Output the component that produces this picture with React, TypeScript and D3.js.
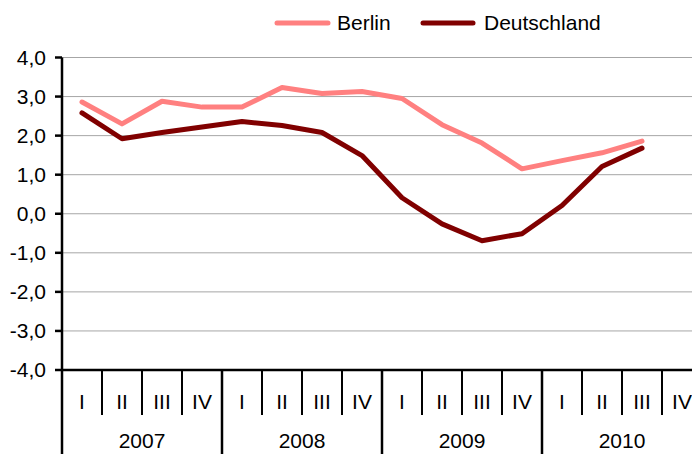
import React from 'react';
import * as d3 from 'd3';

const years = ['2007', '2008', '2009', '2010'];
const quarters = ['I', 'II', 'III', 'IV'];
const yTicks = [-4, -3, -2, -1, 0, 1, 2, 3, 4];

const berlin = [2.86, 2.3, 2.88, 2.73, 2.73, 3.23, 3.08, 3.13, 2.95, 2.28, 1.81, 1.15, 1.36, 1.56, 1.86];
const deutschland = [2.58, 1.92, 2.08, 2.22, 2.36, 2.26, 2.08, 1.49, 0.41, -0.26, -0.69, -0.51, 0.21, 1.21, 1.68];

const series = [
  { name: 'Berlin', values: berlin, color: '#FF8080' },
  { name: 'Deutschland', values: deutschland, color: '#800000' },
];

const W = 692;
const H = 454;
const font = 'Liberation Sans, Arial, sans-serif';
const fs = 21;

const App = () => {
  const slots = years.flatMap((yr) => quarters.map((q) => `${yr}-${q}`));
  const x = d3.scaleBand().domain(slots).range([62, 702]);
  const y = d3.scaleLinear().domain([-4, 4]).range([370, 57.5]);
  const fmt = (v: number) => d3.format('.1f')(v).replace('.', ',').replace('−', '-');

  const line = d3
    .line<number>()
    .x((_, i) => (x(slots[i]) as number) + x.bandwidth() / 2)
    .y((d) => y(d));

  const bottom = y(-4);

  return (
    <svg width={W} height={H} style={{ position: 'absolute', left: 0, top: 0 }} fontFamily={font}>
      {/* grid */}
      {yTicks.filter((t) => t !== -4).map((t) => (
        <line key={t} x1={62} x2={W} y1={y(t)} y2={y(t)} stroke="#a6a6a6" strokeWidth={1} />
      ))}

      {/* y axis */}
      <line x1={62} x2={62} y1={y(4)} y2={bottom} stroke="#000" strokeWidth={2.5} />
      {yTicks.map((t) => (
        <g key={t}>
          <line x1={55} x2={62} y1={y(t)} y2={y(t)} stroke="#000" strokeWidth={2.5} />
          <text x={46} y={y(t)} dy="0.35em" textAnchor="end" fontSize={fs} fill="#000">
            {fmt(t)}
          </text>
        </g>
      ))}

      {/* x axis */}
      <line x1={62} x2={W} y1={bottom} y2={bottom} stroke="#000" strokeWidth={2.5} />
      {slots.map((s, i) => {
        const x0 = x(s) as number;
        const yearStart = i % 4 === 0;
        return (
          <g key={s}>
            <line
              x1={x0}
              x2={x0}
              y1={bottom}
              y2={yearStart ? H : 415}
              stroke="#000"
              strokeWidth={yearStart ? 2.5 : 2}
            />
            <text x={x0 + x.bandwidth() / 2} y={402} dy="0.35em" textAnchor="middle" fontSize={fs} fill="#000">
              {quarters[i % 4]}
            </text>
          </g>
        );
      })}
      {years.map((yr) => (
        <text
          key={yr}
          x={(x(`${yr}-I`) as number) + x.bandwidth() * 2}
          y={441}
          dy="0.35em"
          textAnchor="middle"
          fontSize={fs}
          fill="#000"
        >
          {yr}
        </text>
      ))}

      {/* lines */}
      {series.map((s) => (
        <path
          key={s.name}
          d={line(s.values) as string}
          fill="none"
          stroke={s.color}
          strokeWidth={5}
          strokeLinejoin="round"
          strokeLinecap="round"
        />
      ))}

      {/* legend */}
      <g>
        <line x1={277} x2={328} y1={23} y2={23} stroke="#FF8080" strokeWidth={5} strokeLinecap="round" />
        <text x={337} y={23} dy="0.35em" fontSize={fs} fill="#000">Berlin</text>
        <line x1={423} x2={473} y1={23} y2={23} stroke="#800000" strokeWidth={5} strokeLinecap="round" />
        <text x={484} y={23} dy="0.35em" fontSize={fs} fill="#000">Deutschland</text>
      </g>
    </svg>
  );
};

export default App;
